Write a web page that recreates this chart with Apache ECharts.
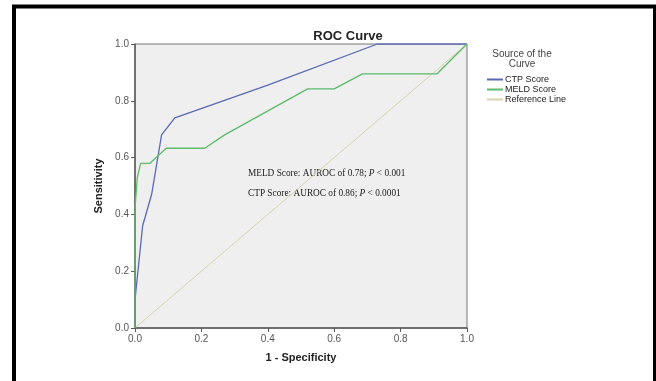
<!DOCTYPE html>
<html>
<head>
<meta charset="utf-8">
<script src="https://cdn.jsdelivr.net/npm/echarts@6/dist/echarts.min.js"></script>
<style>
  html, body { margin: 0; padding: 0; background: #fff; }
  #chart { width: 656px; height: 381px; }
</style>
</head>
<body>
<div id="chart"></div>
<script>
// [1 - specificity, sensitivity]
const ctpPoints = [[0, 0], [0, 0.1], [0.023, 0.36], [0.05, 0.47], [0.08, 0.68], [0.12, 0.74], [0.4, 0.855], [0.73, 1], [1, 1]]
const meldPoints = [[0, 0], [0, 0.42], [0.007, 0.53], [0.017, 0.58], [0.045, 0.58], [0.094, 0.633], [0.21, 0.633], [0.27, 0.68], [0.52, 0.842], [0.6, 0.842], [0.685, 0.895], [0.91, 0.895], [1, 1]]
const refPoints = [[0, 0], [1, 1]]
const seriesNames = ['CTP Score', 'MELD Score', 'Reference Line']
const notes = ['MELD Score: AUROC of 0.78; ', 'CTP Score: AUROC of 0.86; ']
const pNotes = ['< 0.001', '< 0.0001']

const chart = echarts.init(document.getElementById('chart'))
const axisColor = '#5a5a5a'
const labelColor = '#555'
const noteRich = {
  n: { font: '9.3px "Liberation Serif", "Times New Roman"', fill: '#222' },
  p: { font: 'italic 9.3px "Liberation Serif", "Times New Roman"', fill: '#222' }
}

chart.setOption({
  animation: false,
  backgroundColor: '#fff',
  title: {
    text: 'ROC Curve',
    left: 343,
    textAlign: 'center',
    top: 25,
    textStyle: { fontFamily: 'Liberation Sans, Arial', fontWeight: 'bold', fontSize: 13, color: '#222' }
  },
  legend: {
    orient: 'vertical',
    left: 482,
    top: 70,
    itemGap: 1,
    itemWidth: 16,
    itemHeight: 2,
    icon: 'rect',
    data: seriesNames,
    textStyle: { fontFamily: 'Liberation Sans, Arial', fontSize: 9, color: '#222', padding: [0, 0, 0, -3] }
  },
  grid: { left: 135, right: 189, top: 44, bottom: 53 },
  xAxis: {
    type: 'value',
    min: 0,
    max: 1,
    interval: 0.2,
    name: '1 - Specificity',
    nameLocation: 'middle',
    nameGap: 24,
    nameTextStyle: { fontFamily: 'Liberation Sans, Arial', fontWeight: 'bold', fontSize: 11, color: '#222' },
    axisLine: { lineStyle: { color: axisColor, width: 1.5 } },
    axisTick: { show: true, length: 4, lineStyle: { color: axisColor } },
    axisLabel: { color: labelColor, fontSize: 10, fontFamily: 'Liberation Sans, Arial', margin: 6, formatter: v => v.toFixed(1) },
    splitLine: { show: false }
  },
  yAxis: {
    type: 'value',
    min: 0,
    max: 1,
    interval: 0.2,
    name: 'Sensitivity',
    nameLocation: 'middle',
    nameGap: 27,
    nameTextStyle: { fontFamily: 'Liberation Sans, Arial', fontWeight: 'bold', fontSize: 11, color: '#222' },
    axisLine: { show: true, lineStyle: { color: axisColor, width: 1.5 } },
    axisTick: { show: true, length: 4, lineStyle: { color: axisColor } },
    axisLabel: { color: labelColor, fontSize: 10, fontFamily: 'Liberation Sans, Arial', margin: 6, formatter: v => v.toFixed(1) },
    splitLine: { show: false }
  },
  graphic: [
    {
      type: 'rect',
      shape: { x: 135, y: 44, width: 332, height: 284 },
      style: { fill: '#efefef', stroke: '#777', lineWidth: 1 },
      z: -1,
      silent: true
    },
    {
      type: 'rect',
      shape: { x: 14, y: 6.5, width: 641, height: 420 },
      style: { fill: 'none', stroke: '#000', lineWidth: 4 },
      silent: true
    },
    {
      type: 'text',
      x: 522,
      y: 49,
      style: {
        text: 'Source of the\nCurve',
        align: 'center',
        font: '10px "Liberation Sans", Arial',
        fill: '#444',
        lineHeight: 10
      }
    },
    {
      type: 'text',
      x: 248,
      y: 169,
      style: { text: '{n|' + notes[0] + '}{p|P}{n| ' + pNotes[0] + '}', rich: noteRich }
    },
    {
      type: 'text',
      x: 248,
      y: 189,
      style: { text: '{n|' + notes[1] + '}{p|P}{n| ' + pNotes[1] + '}', rich: noteRich }
    }
  ],
  series: [
    {
      name: seriesNames[0],
      type: 'line',
      data: ctpPoints,
      symbol: 'none',
      lineStyle: { color: '#5b68b4', width: 1.3 },
      itemStyle: { color: '#5b68b4' },
      z: 3
    },
    {
      name: seriesNames[1],
      type: 'line',
      data: meldPoints,
      symbol: 'none',
      lineStyle: { color: '#5dbb6a', width: 1.3 },
      itemStyle: { color: '#5dbb6a' },
      z: 4
    },
    {
      name: seriesNames[2],
      type: 'line',
      data: refPoints,
      symbol: 'none',
      lineStyle: { color: '#d6d3b0', width: 1 },
      itemStyle: { color: '#d6d3b0' },
      z: 2
    }
  ]
})
</script>
</body>
</html>
